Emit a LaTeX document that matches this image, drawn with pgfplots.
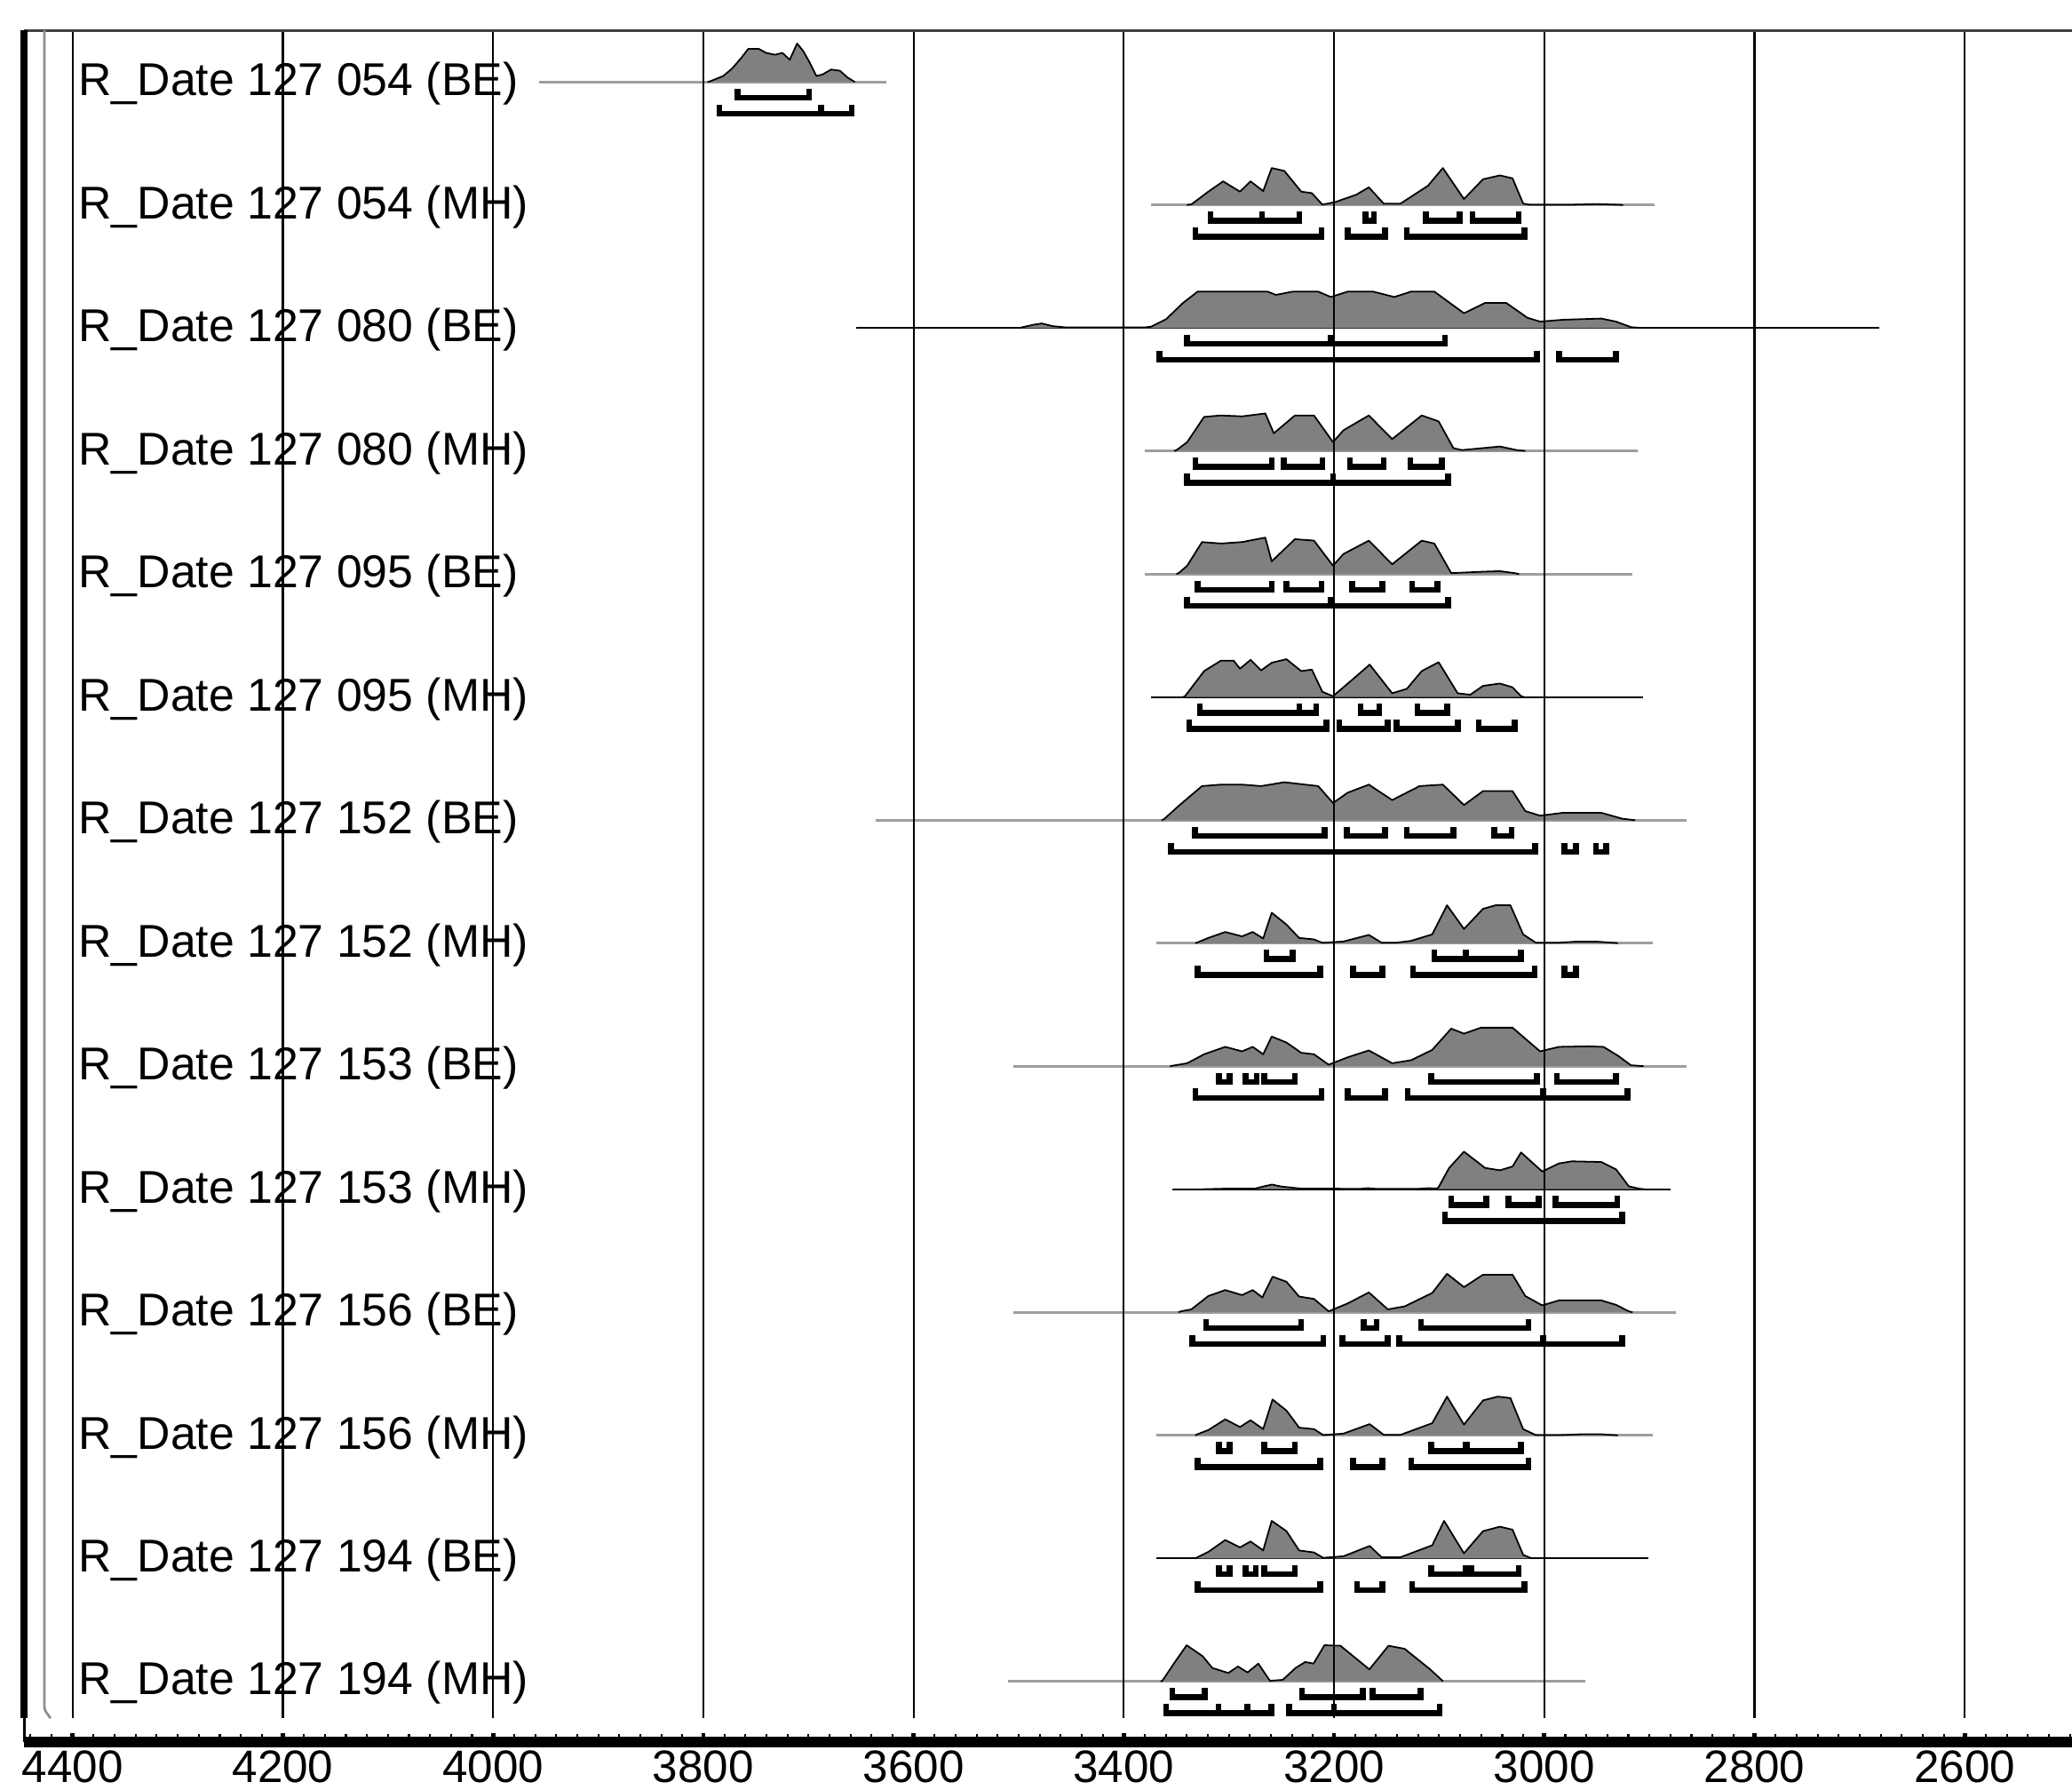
\documentclass[border=0pt]{standalone}
\usepackage{fontspec}
\setmainfont{Liberation Sans}
\usepackage{pgfplots}
\pgfplotsset{compat=1.18}
\newcommand\lab{\fontsize{8.7}{10}\selectfont}
\pgfplotsset{
 r1/.style={y filter/.expression={y+1287}},
 r2/.style={y filter/.expression={y+1193.9}},
 r3/.style={y filter/.expression={y+1100.8}},
 r4/.style={y filter/.expression={y+1007.8}},
 r5/.style={y filter/.expression={y+914.7}},
 r6/.style={y filter/.expression={y+821.6}},
 r7/.style={y filter/.expression={y+728.5}},
 r8/.style={y filter/.expression={y+635.4}},
 r9/.style={y filter/.expression={y+542.4}},
 r10/.style={y filter/.expression={y+449.3}},
 r11/.style={y filter/.expression={y+356.2}},
 r12/.style={y filter/.expression={y+263.1}},
 r13/.style={y filter/.expression={y+170.0}},
 r14/.style={y filter/.expression={y+77.0}},
 dist/.style={fill=black!50, draw=black, line width=0.3pt, line join=round},
 gl/.style={black!38, line width=0.55pt},
 bl/.style={black, line width=0.3pt},
 bk/.style={black, line width=1.1pt, line join=miter, line cap=butt},
}
\begin{document}
\begin{tikzpicture}
\begin{axis}[
 scale only axis, width=387.4pt, height=323.75pt,
 xmin=2498, xmax=4446, ymin=31, ymax=1326, x dir=reverse,
 axis x line*=bottom, axis y line*=none,
 x axis line style={line width=2pt, -},
 xtick={2600,2800,...,4400}, minor xtick={2500,2520,...,4440},
 ytick=\empty,
 tick align=inside,
 major tick length=1.7pt, minor tick length=1.5pt,
 major tick style={line width=0.8pt, black},
 minor tick style={line width=0.35pt, black},
 xticklabel style={font=\fontsize{8.6}{10}\selectfont, inner sep=0pt, yshift=-1.4pt},
 /pgf/number format/1000 sep={},
 /pgf/number format/assume math mode=true,
 clip=false,
 no markers,
]
% ---------- baselines
\addplot[gl,r1] coordinates {(3956,0)(3626,0)};
\addplot[gl,r2] coordinates {(3374,0)(2895,0)};
\addplot[bl,r3] coordinates {(3654.6,0)(2681.6,0)};
\addplot[gl,r4] coordinates {(3380,0)(2911,0)};
\addplot[gl,r5] coordinates {(3380,0)(2916,0)};
\addplot[bl,r6] coordinates {(3374,0)(2906,0)};
\addplot[gl,r7] coordinates {(3636,0)(2865,0)};
\addplot[gl,r8] coordinates {(3369,0)(2897,0)};
\addplot[gl,r9] coordinates {(3505,0)(2865,0)};
\addplot[bl,r10] coordinates {(3354,0)(2880,0)};
\addplot[gl,r11] coordinates {(3505,0)(2875,0)};
\addplot[gl,r12] coordinates {(3369,0)(2897,0)};
\addplot[bl,r13] coordinates {(3369,0)(2901,0)};
\addplot[gl,r14] coordinates {(3510,0)(2961,0)};
% ---------- distributions
\addplot[dist,r1] table {
x h
3796 0
3793.8 0.4
3781.1 4.5
3772.7 10.1
3764.2 17.9
3757.2 25.1
3747.4 25.1
3740.3 22.0
3731.9 20.6
3724.8 22.0
3717.8 16.8
3710.8 29.1
3705.1 23.5
3699.5 15.7
3692.5 4.5
3686.8 5.6
3678.4 9.4
3670.0 8.5
3662.9 3.4
3655.9 0
};
\addplot[dist,r2] table {
x h
3340 0
3335.7 0.5
3319.6 10.1
3305.5 17.9
3289.5 10.1
3279.4 17.9
3267.4 10.5
3259.3 28.0
3247.3 25.8
3231.2 10.1
3221.1 9.0
3211.1 0.3
3199.0 2.2
3178.9 7.8
3166.9 13.4
3152.8 1.1
3136.7 1.1
3110.6 14.6
3096.5 28.0
3076.4 4.5
3058.3 19.5
3042.2 22.4
3030.2 20.2
3020.1 1.1
3014.1 0.2
2974 0.2
2950 0.7
2930 0.2
2925 0
};
\addplot[dist,r3] table {
x h
3500 0
3486 2.5
3478 3.5
3468 1.5
3455 0.5
3380 0.5
3373.9 1.1
3359.8 6.7
3343.7 19.0
3329.7 27.6
3295.5 27.6
3263.3 27.6
3255.3 25.1
3239.2 27.6
3215.1 27.6
3203.0 23.5
3187.0 27.6
3162.8 27.6
3142.7 23.5
3126.7 27.6
3104.6 27.6
3076.4 11.2
3056.3 19.0
3036.2 19.0
3028.2 14.6
3016.1 7.8
3004.0 4.9
2982.0 6.3
2945.8 7.2
2931.7 4.9
2917.6 0.7
2905.5 0
};
\addplot[dist,r4] table {
x h
3352 0
3349.8 0.7
3339.7 6.7
3323.6 25.8
3307.6 26.9
3287.5 26.2
3265.4 28.4
3257.3 13.4
3237.2 26.9
3219.1 26.9
3201.0 6.7
3191.0 15.7
3166.9 26.9
3144.7 9.0
3116.6 26.9
3100.5 22.4
3086.5 2.2
3078.4 0.7
3058.3 2.2
3042.2 3.4
3026.2 0.7
3018.1 0
};
\addplot[dist,r5] table {
x h
3350 0
3347.8 0.7
3339.7 6.3
3325.6 24.2
3307.6 23.1
3287.5 24.2
3265.4 27.6
3259.3 9.6
3237.2 26.4
3219.1 25.3
3201.0 6.3
3191.0 15.2
3166.9 25.3
3144.7 7.4
3116.6 25.3
3104.6 23.1
3088.5 0.7
3058.3 1.8
3042.2 2.2
3028.2 0.7
3024 0
};
\addplot[dist,r6] table {
x h
3344 0
3341.7 0.7
3323.6 19.7
3307.6 27.6
3295.5 27.6
3289.5 21.5
3279.4 28.2
3269.4 20.2
3259.3 26.0
3245.3 28.7
3231.2 19.7
3221.1 20.8
3211.1 4.0
3201.0 0.7
3182.9 13.0
3166.1 24.6
3144.7 2.9
3130.7 6.3
3116.6 19.7
3100.5 26.4
3082.4 2.9
3070.4 1.8
3058.3 8.5
3042.2 10.3
3030.2 7.4
3022.1 0.7
3019 0
};
\addplot[dist,r7] table {
x h
3364 0
3361.8 0.7
3347.8 10.8
3325.6 25.8
3307.6 26.9
3287.5 26.9
3269.4 25.8
3247.3 28.7
3215.1 25.8
3201.0 13.0
3187.0 20.8
3166.9 26.9
3144.7 15.2
3118.6 25.8
3096.5 26.9
3076.4 11.4
3058.3 22.0
3030.2 22.0
3018.1 6.9
3004.0 3.4
2982.0 5.6
2945.8 5.6
2925.7 1.1
2913.6 0
};
\addplot[dist,r8] table {
x h
3332 0
3329.7 0.7
3319.6 4.0
3303.5 8.5
3287.5 5.2
3277.4 8.5
3267.4 3.6
3259.3 23.1
3245.3 14.1
3233.2 4.0
3219.1 2.9
3211.1 0.3
3191.0 1.3
3166.9 6.3
3154.8 0.4
3140.7 0.4
3126.7 1.8
3106.6 6.7
3092.5 28.7
3076.4 10.8
3058.3 26.0
3046.3 28.7
3032.2 28.7
3020.1 6.7
3008.1 0.4
2986 0.4
2970 1.2
2950 1.2
2934 0.3
2930 0
};
\addplot[dist,r9] table {
x h
3356 0
3339.7 2.2
3323.6 9.0
3303.5 14.6
3287.5 11.2
3277.4 14.6
3267.4 9.0
3259.3 22.4
3245.3 17.9
3231.2 10.1
3219.1 9.0
3205.1 1.1
3187.0 6.7
3166.9 11.9
3144.7 2.2
3126.7 4.5
3106.6 12.3
3088.5 28.4
3076.4 24.6
3060.3 29.1
3030.2 29.1
3004.0 11.2
2985.9 14.6
2957.8 15.0
2943.7 14.6
2929.7 7.8
2917.6 0.7
2905.5 0
};
\addplot[dist,r10] table {
x h
3325 0
3300 0.5
3275 0.5
3265 2.5
3259 3.5
3250 2.0
3232 0.5
3175 0.3
3168 0.8
3160 0.3
3120 0.3
3110 0.8
3102 0.5
3100.5 1.6
3090.5 16.1
3076.4 28.4
3056.3 16.1
3042.2 14.3
3030.2 17.2
3022.1 27.8
3002.0 13.4
2986.0 19.5
2973.9 21.1
2945.8 20.6
2931.7 15.0
2919.6 2.2
2909.6 0.4
2905 0
};
\addplot[dist,r11] table {
x h
3348 0
3345.8 0.7
3335.7 2.2
3319.6 12.3
3303.5 16.8
3287.5 13.0
3277.4 16.8
3268.2 11.2
3258.5 26.9
3245.3 23.1
3233.2 11.9
3219.1 10.1
3205.1 0.7
3187.0 6.7
3166.9 15.0
3148.8 2.2
3132.7 4.5
3106.6 14.6
3092.5 29.1
3076.4 19.0
3058.3 28.4
3030.2 28.4
3018.1 12.3
3002.0 5.2
2986.0 9.0
2945.8 9.0
2931.7 5.6
2919.6 0.7
2916 0
};
\addplot[dist,r12] table {
x h
3332 0
3329.7 0.9
3319.6 4.0
3303.5 12.1
3289.5 6.3
3279.4 11.4
3267.4 4.7
3258.5 27.1
3245.3 18.8
3233.2 5.8
3219.1 4.7
3210.3 0.2
3191.0 1.3
3166.1 8.5
3152.8 0.4
3136.7 0.4
3106.6 9.2
3092.5 29.3
3076.4 8.1
3058.3 26.4
3044.3 29.3
3032.2 28.2
3020.1 4.7
3008.1 0.2
2984 0.2
2965 0.8
2945 0.8
2935 0.2
2930 0
};
\addplot[dist,r13] table {
x h
3332 0
3329.7 0.9
3319.6 4.9
3303.5 13.9
3289.5 8.3
3279.4 12.8
3267.4 6.0
3259.3 28.4
3245.3 20.6
3233.2 6.0
3219.1 4.5
3210.3 0.4
3191.0 1.6
3166.1 9.4
3154.8 0.9
3136.7 0.9
3106.6 9.9
3095.3 28.4
3076.4 3.8
3058.3 20.6
3042.2 24.0
3030.2 21.7
3020.1 2.7
3012.1 0
};
\addplot[dist,r14] table {
x h
3365 0
3363.4 0.3
3352.4 13.4
3340.2 27.3
3325.0 19.0
3315.8 10.1
3300.6 6.3
3291.4 11.2
3282.3 6.7
3272.0 13.4
3261.0 0.4
3248.8 1.1
3236.6 10.1
3227.4 14.6
3219.5 13.4
3209.1 27.3
3193.9 26.9
3166.4 9.0
3148.2 26.9
3132.9 24.6
3108.5 9.0
3096.3 0
};
% ---------- ranges (68.2% upper, 95.4% lower)
% row 1
\addplot[bk,r1] coordinates {(3767.6,-5)(3767.6,-12)(3699.5,-12)(3699.5,-5)};
\addplot[bk,r1] coordinates {(3784.8,-17)(3784.8,-24)(3688.2,-24)(3688.2,-17)};
\addplot[bk,r1] coordinates {(3688.2,-17)(3688.2,-24)(3658.7,-24)(3658.7,-17)};
% row 2
\addplot[bk,r2] coordinates {(3317.6,-5)(3317.6,-12)(3268.6,-12)(3268.6,-5)};
\addplot[bk,r2] coordinates {(3268.6,-5)(3268.6,-12)(3233.2,-12)(3233.2,-5)};
\addplot[bk,r2] coordinates {(3170,-5)(3170,-12)(3162,-12)(3162,-5)};
\addplot[bk,r2] coordinates {(3112.6,-5)(3112.6,-12)(3080.4,-12)(3080.4,-5)};
\addplot[bk,r2] coordinates {(3068.4,-5)(3068.4,-12)(3024.2,-12)(3024.2,-5)};
\addplot[bk,r2] coordinates {(3331.7,-17)(3331.7,-24)(3211.9,-24)(3211.9,-17)};
\addplot[bk,r2] coordinates {(3187,-17)(3187,-24)(3151.6,-24)(3151.6,-17)};
\addplot[bk,r2] coordinates {(3130.7,-17)(3130.7,-24)(3018.9,-24)(3018.9,-17)};
% row 3
\addplot[bk,r3] coordinates {(3339.7,-5)(3339.7,-12)(3203,-12)(3203,-5)};
\addplot[bk,r3] coordinates {(3203,-5)(3203,-12)(3094.5,-12)(3094.5,-5)};
\addplot[bk,r3] coordinates {(3365.9,-17)(3365.9,-24)(3006.9,-24)(3006.9,-17)};
\addplot[bk,r3] coordinates {(2986,-17)(2986,-24)(2931.7,-24)(2931.7,-17)};
% row 4
\addplot[bk,r4] coordinates {(3331.7,-5)(3331.7,-12)(3259.3,-12)(3259.3,-5)};
\addplot[bk,r4] coordinates {(3247.7,-5)(3247.7,-12)(3211.1,-12)(3211.1,-5)};
\addplot[bk,r4] coordinates {(3184.9,-5)(3184.9,-12)(3152.8,-12)(3152.8,-5)};
\addplot[bk,r4] coordinates {(3127.5,-5)(3127.5,-12)(3097.3,-12)(3097.3,-5)};
\addplot[bk,r4] coordinates {(3339.7,-17)(3339.7,-24)(3201,-24)(3201,-17)};
\addplot[bk,r4] coordinates {(3201,-17)(3201,-24)(3091.7,-24)(3091.7,-17)};
% row 5
\addplot[bk,r5] coordinates {(3329.7,-5)(3329.7,-12)(3259.3,-12)(3259.3,-5)};
\addplot[bk,r5] coordinates {(3245.3,-5)(3245.3,-12)(3211.9,-12)(3211.9,-5)};
\addplot[bk,r5] coordinates {(3182.9,-5)(3182.9,-12)(3154,-12)(3154,-5)};
\addplot[bk,r5] coordinates {(3125.9,-5)(3125.9,-12)(3101.7,-12)(3101.7,-5)};
\addplot[bk,r5] coordinates {(3339.7,-17)(3339.7,-24)(3203,-24)(3203,-17)};
\addplot[bk,r5] coordinates {(3203,-17)(3203,-24)(3091.7,-24)(3091.7,-17)};
% row 6
\addplot[bk,r6] coordinates {(3327.7,-5)(3327.7,-12)(3233.2,-12)(3233.2,-5)};
\addplot[bk,r6] coordinates {(3233.2,-5)(3233.2,-12)(3217.1,-12)(3217.1,-5)};
\addplot[bk,r6] coordinates {(3174.9,-5)(3174.9,-12)(3156.8,-12)(3156.8,-5)};
\addplot[bk,r6] coordinates {(3120.6,-5)(3120.6,-12)(3092.5,-12)(3092.5,-5)};
\addplot[bk,r6] coordinates {(3337.7,-17)(3337.7,-24)(3207.1,-24)(3207.1,-17)};
\addplot[bk,r6] coordinates {(3195,-17)(3195,-24)(3148.8,-24)(3148.8,-17)};
\addplot[bk,r6] coordinates {(3140.7,-17)(3140.7,-24)(3082.4,-24)(3082.4,-17)};
\addplot[bk,r6] coordinates {(3062.3,-17)(3062.3,-24)(3028.2,-24)(3028.2,-17)};
% row 7
\addplot[bk,r7] coordinates {(3332.5,-5)(3332.5,-12)(3209.1,-12)(3209.1,-5)};
\addplot[bk,r7] coordinates {(3187.8,-5)(3187.8,-12)(3151.6,-12)(3151.6,-5)};
\addplot[bk,r7] coordinates {(3130.7,-5)(3130.7,-12)(3086.5,-12)(3086.5,-5)};
\addplot[bk,r7] coordinates {(3047.7,-5)(3047.7,-12)(3031,-12)(3031,-5)};
\addplot[bk,r7] coordinates {(3355,-17)(3355,-24)(3008.9,-24)(3008.9,-17)};
\addplot[bk,r7] coordinates {(2980.7,-17)(2980.7,-24)(2970,-24)(2970,-17)};
\addplot[bk,r7] coordinates {(2951,-17)(2951,-24)(2941,-24)(2941,-17)};
% row 8
\addplot[bk,r8] coordinates {(3264.1,-5)(3264.1,-12)(3239.2,-12)(3239.2,-5)};
\addplot[bk,r8] coordinates {(3104.6,-5)(3104.6,-12)(3074.4,-12)(3074.4,-5)};
\addplot[bk,r8] coordinates {(3074.4,-5)(3074.4,-12)(3022.1,-12)(3022.1,-5)};
\addplot[bk,r8] coordinates {(3329.7,-17)(3329.7,-24)(3213.1,-24)(3213.1,-17)};
\addplot[bk,r8] coordinates {(3181.7,-17)(3181.7,-24)(3154,-24)(3154,-17)};
\addplot[bk,r8] coordinates {(3124.7,-17)(3124.7,-24)(3009.3,-24)(3009.3,-17)};
\addplot[bk,r8] coordinates {(2980.7,-17)(2980.7,-24)(2970,-24)(2970,-17)};
% row 9
\addplot[bk,r9] coordinates {(3309.6,-5)(3309.6,-12)(3299.5,-12)(3299.5,-5)};
\addplot[bk,r9] coordinates {(3284.2,-5)(3284.2,-12)(3273.4,-12)(3273.4,-5)};
\addplot[bk,r9] coordinates {(3266.6,-5)(3266.6,-12)(3237.2,-12)(3237.2,-5)};
\addplot[bk,r9] coordinates {(3107.4,-5)(3107.4,-12)(3006.9,-12)(3006.9,-5)};
\addplot[bk,r9] coordinates {(2988,-5)(2988,-12)(2931.7,-12)(2931.7,-5)};
\addplot[bk,r9] coordinates {(3331.7,-17)(3331.7,-24)(3211.9,-24)(3211.9,-17)};
\addplot[bk,r9] coordinates {(3187,-17)(3187,-24)(3151.6,-24)(3151.6,-17)};
\addplot[bk,r9] coordinates {(3129.9,-17)(3129.9,-24)(3001.2,-24)(3001.2,-17)};
\addplot[bk,r9] coordinates {(3001.2,-17)(3001.2,-24)(2920.8,-24)(2920.8,-17)};
% row 10
\addplot[bk,r10] coordinates {(3088.5,-5)(3088.5,-12)(3055.1,-12)(3055.1,-5)};
\addplot[bk,r10] coordinates {(3034.2,-5)(3034.2,-12)(3005.3,-12)(3005.3,-5)};
\addplot[bk,r10] coordinates {(2989.2,-5)(2989.2,-12)(2930.5,-12)(2930.5,-5)};
\addplot[bk,r10] coordinates {(3094.5,-17)(3094.5,-24)(2925.7,-24)(2925.7,-17)};
% row 11
\addplot[bk,r11] coordinates {(3321.6,-5)(3321.6,-12)(3231.2,-12)(3231.2,-5)};
\addplot[bk,r11] coordinates {(3171.7,-5)(3171.7,-12)(3159.6,-12)(3159.6,-5)};
\addplot[bk,r11] coordinates {(3117.4,-5)(3117.4,-12)(3014.9,-12)(3014.9,-5)};
\addplot[bk,r11] coordinates {(3334.9,-17)(3334.9,-24)(3210.3,-24)(3210.3,-17)};
\addplot[bk,r11] coordinates {(3192.2,-17)(3192.2,-24)(3148.8,-24)(3148.8,-17)};
\addplot[bk,r11] coordinates {(3137.9,-17)(3137.9,-24)(3001.2,-24)(3001.2,-17)};
\addplot[bk,r11] coordinates {(3001.2,-17)(3001.2,-24)(2925.7,-24)(2925.7,-17)};
% row 12
\addplot[bk,r12] coordinates {(3309.6,-5)(3309.6,-12)(3299.5,-12)(3299.5,-5)};
\addplot[bk,r12] coordinates {(3266.6,-5)(3266.6,-12)(3237.2,-12)(3237.2,-5)};
\addplot[bk,r12] coordinates {(3107.4,-5)(3107.4,-12)(3075.2,-12)(3075.2,-5)};
\addplot[bk,r12] coordinates {(3073.6,-5)(3073.6,-12)(3022.1,-12)(3022.1,-5)};
\addplot[bk,r12] coordinates {(3329.7,-17)(3329.7,-24)(3213.1,-24)(3213.1,-17)};
\addplot[bk,r12] coordinates {(3181.7,-17)(3181.7,-24)(3154,-24)(3154,-17)};
\addplot[bk,r12] coordinates {(3126.7,-17)(3126.7,-24)(3014.9,-24)(3014.9,-17)};
% row 13
\addplot[bk,r13] coordinates {(3309.6,-5)(3309.6,-12)(3299.5,-12)(3299.5,-5)};
\addplot[bk,r13] coordinates {(3284.2,-5)(3284.2,-12)(3274.6,-12)(3274.6,-5)};
\addplot[bk,r13] coordinates {(3266.6,-5)(3266.6,-12)(3237.2,-12)(3237.2,-5)};
\addplot[bk,r13] coordinates {(3107.4,-5)(3107.4,-12)(3075.2,-12)(3075.2,-5)};
\addplot[bk,r13] coordinates {(3069.6,-5)(3069.6,-12)(3024.2,-12)(3024.2,-5)};
\addplot[bk,r13] coordinates {(3329.7,-17)(3329.7,-24)(3213.1,-24)(3213.1,-17)};
\addplot[bk,r13] coordinates {(3178.1,-17)(3178.1,-24)(3154,-24)(3154,-17)};
\addplot[bk,r13] coordinates {(3125.9,-17)(3125.9,-24)(3018.9,-24)(3018.9,-17)};
% row 14
\addplot[bk,r14] coordinates {(3353.7,-5)(3353.7,-12)(3323.2,-12)(3323.2,-5)};
\addplot[bk,r14] coordinates {(3230.5,-5)(3230.5,-12)(3172.5,-12)(3172.5,-5)};
\addplot[bk,r14] coordinates {(3163.4,-5)(3163.4,-12)(3117.7,-12)(3117.7,-5)};
\addplot[bk,r14] coordinates {(3359.8,-17)(3359.8,-24)(3309.8,-24)(3309.8,-17)};
\addplot[bk,r14] coordinates {(3309.8,-17)(3309.8,-24)(3282.3,-24)(3282.3,-17)};
\addplot[bk,r14] coordinates {(3282.3,-17)(3282.3,-24)(3259.8,-24)(3259.8,-17)};
\addplot[bk,r14] coordinates {(3242.7,-17)(3242.7,-24)(3200,-24)(3200,-17)};
\addplot[bk,r14] coordinates {(3200,-17)(3200,-24)(3099.4,-24)(3099.4,-17)};
% ---------- labels
\node[anchor=base west, inner sep=0pt, font=\lab] at (axis cs:4395.3,1276.7) {R\_Date 127 054 (BE)};
\node[anchor=base west, inner sep=0pt, font=\lab] at (axis cs:4395.3,1183.6) {R\_Date 127 054 (MH)};
\node[anchor=base west, inner sep=0pt, font=\lab] at (axis cs:4395.3,1090.5) {R\_Date 127 080 (BE)};
\node[anchor=base west, inner sep=0pt, font=\lab] at (axis cs:4395.3,997.5) {R\_Date 127 080 (MH)};
\node[anchor=base west, inner sep=0pt, font=\lab] at (axis cs:4395.3,904.4) {R\_Date 127 095 (BE)};
\node[anchor=base west, inner sep=0pt, font=\lab] at (axis cs:4395.3,811.3) {R\_Date 127 095 (MH)};
\node[anchor=base west, inner sep=0pt, font=\lab] at (axis cs:4395.3,718.2) {R\_Date 127 152 (BE)};
\node[anchor=base west, inner sep=0pt, font=\lab] at (axis cs:4395.3,625.1) {R\_Date 127 152 (MH)};
\node[anchor=base west, inner sep=0pt, font=\lab] at (axis cs:4395.3,532.1) {R\_Date 127 153 (BE)};
\node[anchor=base west, inner sep=0pt, font=\lab] at (axis cs:4395.3,439.0) {R\_Date 127 153 (MH)};
\node[anchor=base west, inner sep=0pt, font=\lab] at (axis cs:4395.3,345.9) {R\_Date 127 156 (BE)};
\node[anchor=base west, inner sep=0pt, font=\lab] at (axis cs:4395.3,252.8) {R\_Date 127 156 (MH)};
\node[anchor=base west, inner sep=0pt, font=\lab] at (axis cs:4395.3,159.7) {R\_Date 127 194 (BE)};
\node[anchor=base west, inner sep=0pt, font=\lab] at (axis cs:4395.3,66.7) {R\_Date 127 194 (MH)};
% ---------- frame and grid
\pgfplotsinvokeforeach{2600,2800,3000,3200,3400,3600,3800,4000,4200,4400}{
  \draw[black, line width=0.35pt] (axis cs:#1,49) -- (axis cs:#1,1326);
}
\draw[black!75, line width=0.45pt] (axis cs:4446,1326) -- (axis cs:2498,1326);
\draw[black, line width=1.4pt] (axis cs:4446,49) -- (axis cs:4446,1326.2);
\draw[black!45, line width=0.45pt] (axis cs:4426.9,1326) -- (axis cs:4426.9,58) to[out=-90,in=120] (axis cs:4421,49);
\coordinate (bbl) at (axis cs:4469.1,-5);
\coordinate (btr) at (axis cs:2498,1349);
\end{axis}
\pgfresetboundingbox
\path[use as bounding box] (bbl) rectangle (btr);
\end{tikzpicture}
\end{document}
